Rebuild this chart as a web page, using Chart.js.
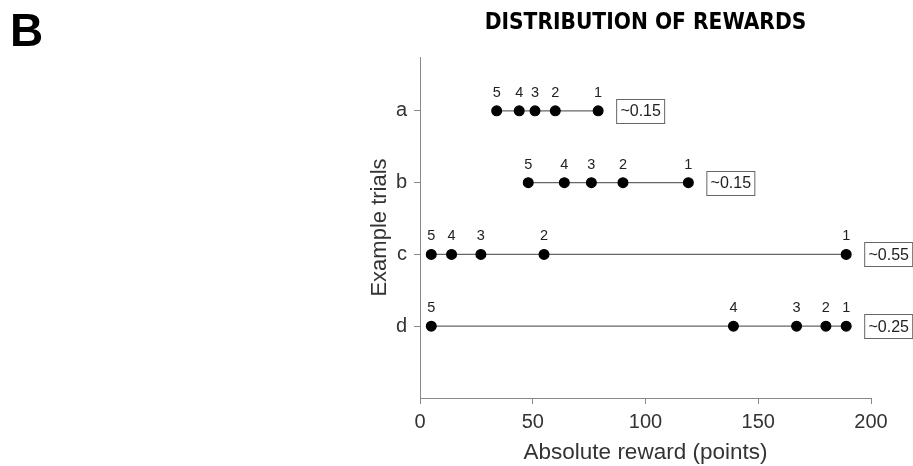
<!DOCTYPE html>
<html>
<head>
<meta charset="utf-8">
<script src="https://cdn.jsdelivr.net/npm/chart.js@4.4.0/dist/chart.umd.min.js"></script>
<style>
  html, body { margin: 0; padding: 0; background: #fff; }
  #wrap { width: 913px; height: 466px; position: relative; }
</style>
</head>
<body>
<div id="wrap"><canvas id="rewardsChart"></canvas></div>
<script>
// trials (top to bottom) and the rewards of options ranked 5..1
const trials = ['a', 'b', 'c', 'd'];
const rewardsA = [34, 44, 51, 60, 79];
const rewardsB = [48, 64, 76, 90, 119];
const rewardsC = [5, 14, 27, 55, 189];
const rewardsD = [5, 139, 167, 180, 189];
const rankLabels = ['5', '4', '3', '2', '1'];
const ratioLabels = ['~0.15', '~0.15', '~0.55', '~0.25'];
const xTicks = [0, 50, 100, 150, 200];

const allRewards = [rewardsA, rewardsB, rewardsC, rewardsD];
const SANS = "'Liberation Sans', Arial, sans-serif";

// trial a sits on top, so its position on the y scale is the highest
function trialPos(i) { return trials.length - i; }

const datasets = allRewards.map(function(rewards, i) {
    return {
        label: trials[i],
        data: rewards.map(r => ({ x: r, y: trialPos(i) })),
        showLine: true,
        borderColor: '#666',
        borderWidth: 1.2,
        backgroundColor: '#000',
        pointBackgroundColor: '#000',
        pointBorderColor: '#000',
        pointRadius: 4.9,
        pointHoverRadius: 4.9
    };
});

// rank numbers above each point and the ratio box after each line
const markLabels = {
    id: 'markLabels',
    afterDatasetsDraw(chart) {
        const ctx = chart.ctx;
        ctx.save();
        chart.data.datasets.forEach(function(ds, i) {
            const pts = chart.getDatasetMeta(i).data;
            ctx.font = '14.5px ' + SANS;
            ctx.fillStyle = '#222';
            ctx.textAlign = 'center';
            ctx.textBaseline = 'middle';
            pts.forEach(function(p, j) {
                ctx.fillText(rankLabels[j], p.x, p.y - 18);
            });
            const last = pts[pts.length - 1];
            const bx = last.x + 18, bw = 48, bh = 24;
            ctx.strokeStyle = '#666';
            ctx.lineWidth = 1;
            ctx.strokeRect(bx + 0.5, Math.round(last.y - bh / 2) + 0.5, bw, bh);
            ctx.font = '16px ' + SANS;
            ctx.fillText(ratioLabels[i], bx + bw / 2 + 0.5, last.y + 1);
        });
        ctx.restore();
    }
};

const panelLetter = {
    id: 'panelLetter',
    afterDraw(chart) {
        const ctx = chart.ctx;
        ctx.save();
        ctx.font = 'bold 46px ' + SANS;
        ctx.fillStyle = '#000';
        ctx.textBaseline = 'alphabetic';
        ctx.fillText('B', 10, 46);
        ctx.restore();
    }
};

new Chart(document.getElementById('rewardsChart'), {
    type: 'scatter',
    data: { datasets: datasets },
    options: {
        responsive: true,
        maintainAspectRatio: false,
        animation: false,
        layout: { padding: { left: 360, right: 42, top: 0, bottom: 0 } },
        plugins: {
            legend: { display: false },
            tooltip: { enabled: false },
            title: {
                display: true,
                fullSize: false,
                text: 'DISTRIBUTION OF REWARDS',
                color: '#000',
                font: { family: "'DejaVu Sans Condensed', " + SANS, size: 22.5, weight: 'bold' },
                padding: { top: 10, bottom: 20 }
            }
        },
        scales: {
            x: {
                type: 'linear',
                min: 0,
                max: 200,
                afterFit: function(scale) { scale.height = 68; },
                afterBuildTicks: function(scale) { scale.ticks = xTicks.map(v => ({ value: v })); },
                grid: { drawOnChartArea: false, drawTicks: true, tickLength: 6, color: '#888' },
                border: { color: '#888', width: 1 },
                ticks: { color: '#333', padding: 6, font: { family: SANS, size: 20 } },
                title: {
                    display: true,
                    text: 'Absolute reward (points)',
                    color: '#333',
                    font: { family: SANS, size: 22.5 },
                    padding: { top: 0, bottom: 0 }
                }
            },
            y: {
                type: 'linear',
                min: 0,
                max: 4.75,
                afterFit: function(scale) { scale.width = 60; },
                afterBuildTicks: function(scale) {
                    scale.ticks = trials.map((t, i) => ({ value: trialPos(i) }));
                },
                grid: { drawOnChartArea: false, drawTicks: true, tickLength: 6, color: '#888' },
                border: { color: '#888', width: 1 },
                ticks: {
                    color: '#333',
                    padding: 7,
                    font: { family: SANS, size: 20 },
                    callback: function(value) { return trials[trials.length - value]; }
                },
                title: {
                    display: true,
                    text: 'Example trials',
                    color: '#333',
                    font: { family: SANS, size: 22 },
                    padding: { top: 7, bottom: 0 }
                }
            }
        }
    },
    plugins: [markLabels, panelLetter]
});
</script>
</body>
</html>
